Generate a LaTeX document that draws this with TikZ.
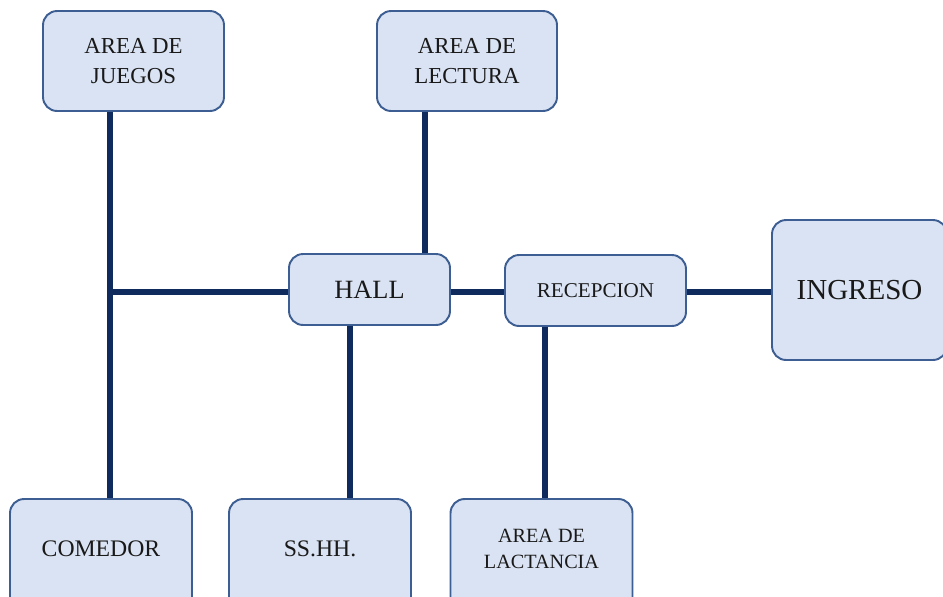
\documentclass[tikz,border=0pt]{standalone}
\usepackage{fontspec}
\setmainfont{Liberation Serif}
\usepackage{xcolor}
\usepackage{tikz}
\usetikzlibrary{positioning}

\definecolor{boxfill}{HTML}{DAE3F3}
\definecolor{boxline}{HTML}{3D5E92}
\definecolor{linkline}{HTML}{0F2A5C}

\begin{document}
\begin{tikzpicture}[
      x=0.02cm, y=-0.02cm,
      area/.style={rectangle, draw=boxline, fill=boxfill, line width=1.1pt, rounded corners=8pt,
        align=center, inner sep=0pt, text=black!90},
      low/.style={area, minimum width=3.64cm, minimum height=2.3cm, text depth=0.3cm},
      link/.style={draw=linkline, line width=3.4pt}
    ]
      \useasboundingbox (0,0) rectangle (943,596);
      % top row
      \node[area, minimum width=3.62cm, minimum height=2cm, font=\fontsize{13}{17}\selectfont] (juegos) at (133.5,61) {AREA DE\\JUEGOS};
      \node[area, minimum width=3.6cm, minimum height=2cm, font=\fontsize{13}{17}\selectfont] (lectura) at (467,61) {AREA DE\\LECTURA};
      % middle row
      \node[area, minimum width=3.22cm, minimum height=1.42cm, font=\fontsize{15}{18}\selectfont] (hall) at (369.5,289.5) {HALL};
      \node[area, minimum width=3.62cm, minimum height=1.42cm, font=\fontsize{12}{14}\selectfont] (recepcion) at (595.5,290.5) {RECEPCION};
      \node[area, minimum width=3.5cm, minimum height=2.8cm, font=\fontsize{16.5}{20}\selectfont] (ingreso) at (859.5,290) {INGRESO};
      % bottom row (cut off by the page)
      \node[low, font=\fontsize{13.5}{16}\selectfont] (comedor) at (101,556.5) {COMEDOR};
      \node[low, font=\fontsize{13.5}{16}\selectfont] (sshh) at (320,556.5) {SS.HH.};
      \node[low, font=\fontsize{11.5}{14.5}\selectfont] (lactancia) at (541.5,556.5) {AREA DE\\LACTANCIA};

      % junctions
      \coordinate (left) at (110,292);
      \coordinate (mid) at (425,0);
      \coordinate (sh) at (350,0);
      \coordinate (lac) at (545,0);

      % connectors
      \draw[link] (juegos.south -| left) -- (comedor.north -| left);
      \draw[link] (left) -- (hall.west |- left);
      \draw[link] (lectura.south -| mid) -- (hall.north -| mid);
      \draw[link] (hall.south -| sh) -- (sshh.north -| sh);
      \draw[link] (hall.east |- left) -- (recepcion.west |- left);
      \draw[link] (recepcion.south -| lac) -- (lactancia.north -| lac);
      \draw[link] (recepcion.east |- left) -- (ingreso.west |- left);
    \end{tikzpicture}
\end{document}
